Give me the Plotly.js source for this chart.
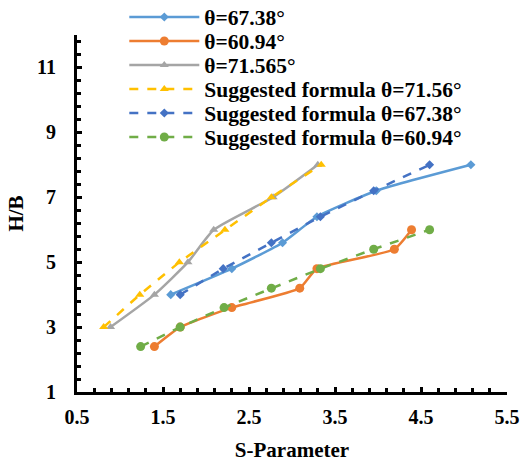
<!DOCTYPE html>
<html>
<head>
<meta charset="utf-8">
<script src="https://cdn.plot.ly/plotly-3.0.1.min.js"></script>
<style>html,body{margin:0;padding:0;background:#fff;}#chart{width:520px;height:463px;}</style>
</head>
<body>
<div id="chart"></div>
<script>
// Data
const names = ["θ=67.38°", "θ=60.94°", "θ=71.565°", "Suggested formula θ=71.56°", "Suggested formula θ=67.38°", "Suggested formula θ=60.94°"];

const s6738 = [1.59, 2.30, 2.89, 3.29, 3.98, 5.08];
const h6738 = [4.0, 4.8, 5.6, 6.4, 7.2, 8.0];

const s6094 = [1.40, 1.70, 2.30, 3.09, 3.29, 4.19, 4.39];
const h6094 = [2.4, 3.0, 3.6, 4.2, 4.8, 5.4, 6.0];

const s71565 = [0.89, 1.40, 1.79, 2.09, 2.78, 3.30];
const h71565 = [3.0, 4.0, 5.0, 6.0, 7.0, 8.0];

const sSug7156 = [0.81, 1.23, 1.69, 2.22, 2.76, 3.34];
const hSug7156 = [3.0, 4.0, 5.0, 6.0, 7.0, 8.0];

const sSug6738 = [1.70, 2.20, 2.76, 3.33, 3.95, 4.60];
const hSug6738 = [4.0, 4.8, 5.6, 6.4, 7.2, 8.0];

const sSug6094 = [1.24, 1.70, 2.21, 2.76, 3.33, 3.95, 4.60];
const hSug6094 = [2.4, 3.0, 3.6, 4.2, 4.8, 5.4, 6.0];

const colors = ["#5B9BD5", "#ED7D31", "#A5A5A5", "#FFC000", "#4472C4", "#70AD47"];
const legendIds = ["legend", "legend2", "legend3", "legend4", "legend5", "legend6"];

function tr(x, y, i, dash, symbol, msize, smooth) {
  return {
    x: x, y: y, name: names[i], type: "scatter", mode: "lines+markers",
    legend: legendIds[i],
    line: {color: colors[i], width: 2.5, dash: dash, shape: smooth ? "spline" : "linear", smoothing: 0.5},
    marker: {color: colors[i], symbol: symbol, size: msize}
  };
}

const data = [
  tr(s6738, h6738, 0, "solid", "diamond", 7, true),
  tr(s6094, h6094, 1, "solid", "circle", 9, true),
  tr(s71565, h71565, 2, "solid", "triangle-up", 8, true),
  tr(sSug7156, hSug7156, 3, "dash", "triangle-up", 8, false),
  tr(sSug6738, hSug6738, 4, "dash", "diamond", 7, false),
  tr(sSug6094, hSug6094, 5, "dash", "circle", 9, false)
];

const fontFam = "Liberation Serif";
const f = (s) => ({family: fontFam, size: s, color: "#000", weight: 700});

const layout = {
  width: 520, height: 463,
  margin: {l: 77, r: 13, t: 35, b: 71, autoexpand: false},
  paper_bgcolor: "#fff", plot_bgcolor: "#fff",
  font: f(20),
  showlegend: true,
  xaxis: {
    range: [0.5, 5.5], tick0: 0.5, dtick: 1, showgrid: false, zeroline: false,
    showline: true, linecolor: "#000", linewidth: 3,
    ticks: "inside", ticklen: 5, tickwidth: 3, tickcolor: "#000",
    minor: {dtick: 0.2, tick0: 0.5, ticks: "inside", ticklen: 4, tickwidth: 3, tickcolor: "#000", showgrid: false},
    tickfont: f(20), ticklabelstandoff: 5,
    title: {text: "S-Parameter", font: f(21), standoff: 16}
  },
  yaxis: {
    range: [1, 12], tick0: 1, dtick: 2, showgrid: false, zeroline: false,
    showline: true, linecolor: "#000", linewidth: 3,
    ticks: "inside", ticklen: 5, tickwidth: 3, tickcolor: "#000",
    minor: {dtick: 0.4, tick0: 1, ticks: "inside", ticklen: 4, tickwidth: 3, tickcolor: "#000", showgrid: false},
    tickfont: f(20), ticklabelstandoff: 14,
    title: {text: "H/B", font: f(21), standoff: 8}
  }
};

// legend row centres (px from top) converted to paper fraction
const rowPx = [17, 41, 65, 89, 113, 137];
legendIds.forEach((id, i) => {
  layout[id] = {
    x: 0.11, y: (392 - rowPx[i]) / 357, xanchor: "left", yanchor: "middle",
    bgcolor: "rgba(0,0,0,0)", itemwidth: 70, font: f(21.5)
  };
});

Plotly.newPlot("chart", data, layout, {displayModeBar: false, staticPlot: true});
</script>
</body>
</html>
